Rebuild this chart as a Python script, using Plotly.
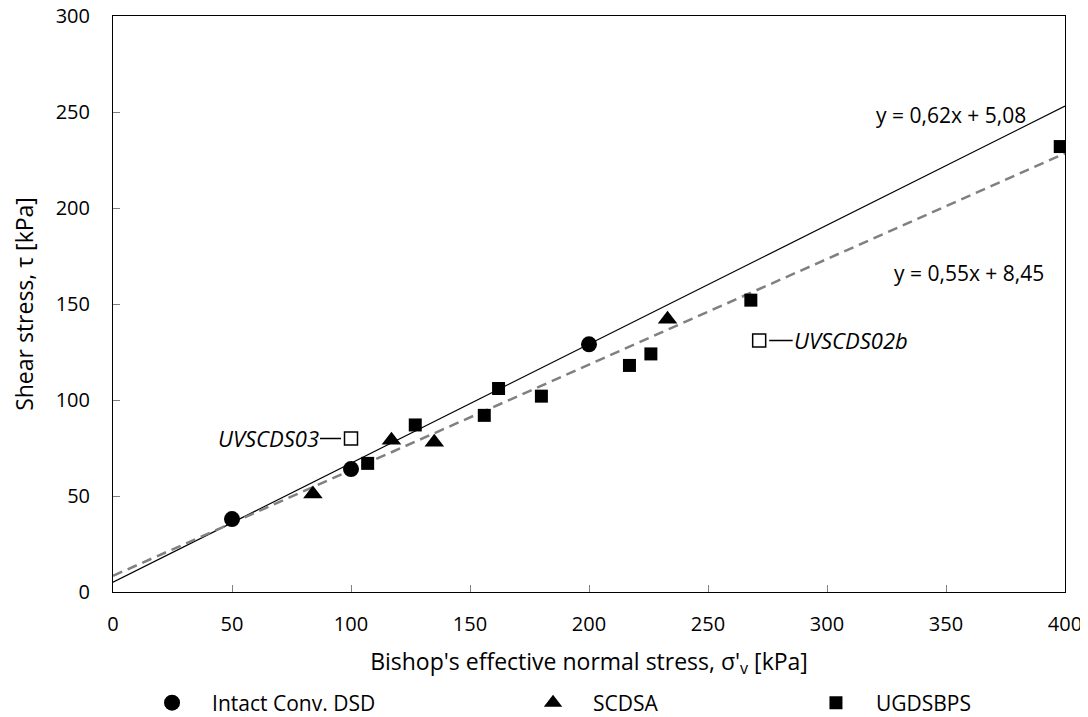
import plotly.graph_objects as go

# Data
circ_x = [50, 100, 200]
circ_y = [38, 64, 129]
tri_x = [84, 117, 135, 233]
tri_y = [51, 79, 78, 142]
sq_x = [107, 127, 156, 162, 180, 217, 226, 268, 398]
sq_y = [67, 87, 92, 106, 102, 118, 124, 152, 232]
open_x = [100, 271.5]
open_y = [80, 131]
open_labels = ["UVSCDS03", "UVSCDS02b"]
fit1 = (0.62, 5.08)
fit2 = (0.55, 8.45)
line_x = [0, 400]

FONT = "Open Sans"
fig = go.Figure()

fig.add_trace(go.Scatter(x=line_x, y=[fit1[0]*v + fit1[1] for v in line_x], mode="lines",
                         line=dict(color="black", width=1.2), showlegend=False, hoverinfo="skip"))
fig.add_trace(go.Scatter(x=line_x, y=[fit2[0]*v + fit2[1] for v in line_x], mode="lines",
                         line=dict(color="#808080", width=2.5, dash="10px,6px"), showlegend=False, hoverinfo="skip"))

fig.add_trace(go.Scatter(x=circ_x, y=circ_y, mode="markers", name="Intact Conv. DSD", legend="legend",
                         marker=dict(symbol="circle", size=16, color="black")))
fig.add_trace(go.Scatter(x=tri_x, y=tri_y, mode="markers", name="SCDSA", legend="legend2",
                         marker=dict(symbol="triangle-up", size=17, color="black")))
fig.add_trace(go.Scatter(x=sq_x, y=sq_y, mode="markers", name="UGDSBPS", legend="legend3",
                         marker=dict(symbol="square", size=13, color="black")))
fig.add_trace(go.Scatter(x=open_x, y=open_y, mode="markers", showlegend=False,
                         marker=dict(symbol="square", size=13, color="white",
                                     line=dict(color="black", width=1.5))))

# Leader labels
fig.add_annotation(x=open_x[0], y=open_y[0], text="<i>" + open_labels[0] + "</i>", showarrow=True,
                   arrowhead=0, arrowwidth=1.5, arrowcolor="black", ax=-83, ay=0, standoff=10,
                   font=dict(family=FONT, size=22, color="black"))
fig.add_annotation(x=open_x[1], y=open_y[1], text="<i>" + open_labels[1] + "</i>", showarrow=True,
                   arrowhead=0, arrowwidth=1.5, arrowcolor="black", ax=92, ay=0, standoff=10,
                   font=dict(family=FONT, size=22, color="black"))

fig.add_annotation(x=352, y=248.5, text="y = 0,62x + 5,08", showarrow=False,
                   font=dict(family=FONT, size=21, color="black"))
fig.add_annotation(x=359.5, y=166, text="y = 0,55x + 8,45", showarrow=False,
                   font=dict(family=FONT, size=21, color="black"))

axis_common = dict(showgrid=False, zeroline=False, showline=True, linecolor="black", linewidth=1,
                   mirror=True, ticks="inside", ticklen=7, tickcolor="#808080",
                   ticklabeloverflow="allow",
                   tickfont=dict(family=FONT, size=20, color="black"))
fig.update_xaxes(range=[0, 400], dtick=50, ticklabelstandoff=14, **axis_common,
                 title=dict(text="Bishop's effective normal stress, σ'<sub>v</sub> [kPa]",
                            font=dict(family=FONT, size=23, color="black"), standoff=17))
fig.update_yaxes(range=[0, 300], dtick=50, ticklabelstandoff=18, **axis_common,
                 title=dict(text="Shear stress, τ [kPa]",
                            font=dict(family=FONT, size=23, color="black"), standoff=15))

leg = dict(orientation="h", yanchor="middle", xanchor="left", y=-0.1927, itemwidth=70,
           font=dict(family=FONT, size=21, color="black"), bgcolor="rgba(0,0,0,0)")
fig.update_layout(width=1088, height=717, plot_bgcolor="white", paper_bgcolor="white",
                  margin=dict(l=105, r=31, t=8, b=133, autoexpand=False),
                  legend=dict(x=0.020, **leg),
                  legend2=dict(x=0.4202, **leg),
                  legend3=dict(x=0.7174, **leg))
fig.write_html("out.html")
